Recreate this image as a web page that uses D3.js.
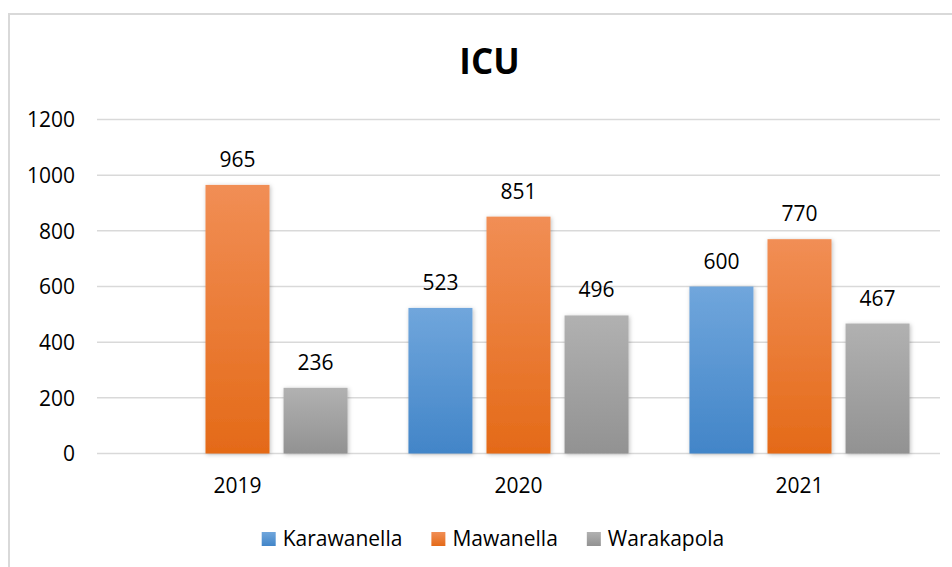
<!DOCTYPE html>
<html>
<head>
<meta charset="utf-8">
<script src="https://cdn.jsdelivr.net/npm/d3@7"></script>
<style>
  body { margin: 0; background: #fff; }
  text { font-family: "Open Sans", "Noto Sans", sans-serif; fill: #000; }
</style>
</head>
<body>
<div id="chart"></div>
<script>
var width = 952,
    height = 567;

// data
var years = ["2019", "2020", "2021"];
var seriesNames = ["Karawanella", "Mawanella", "Warakapola"];
var karawanella = [null, 523, 600];
var mawanella = [965, 851, 770];
var warakapola = [236, 496, 467];
var yTicks = [0, 200, 400, 600, 800, 1000, 1200];

var seriesValues = [karawanella, mawanella, warakapola];
var colors = [
    ["#70a6dc", "#4285c8"],
    ["#f18e55", "#e46a18"],
    ["#b1b1b1", "#929292"]
];

var plot = {left: 97, right: 940, top: 119.5, bottom: 453.5};

var svg = d3.select('#chart').append('svg')
    .attr('width', width)
    .attr('height', height);

var defs = svg.append('defs');
colors.forEach(function(c, i) {
    var grad = defs.append('linearGradient')
        .attr('id', 'grad' + i)
        .attr('x1', 0).attr('y1', 0).attr('x2', 0).attr('y2', 1);
    grad.append('stop').attr('offset', '0%').attr('stop-color', c[0]);
    grad.append('stop').attr('offset', '100%').attr('stop-color', c[1]);
});
var shadow = defs.append('filter').attr('id', 'shadow')
    .attr('x', '-20%').attr('y', '-10%').attr('width', '140%').attr('height', '120%');
shadow.append('feDropShadow')
    .attr('dx', 1).attr('dy', 1).attr('stdDeviation', 2)
    .attr('flood-color', '#000').attr('flood-opacity', 0.25);

// chart border
svg.append('rect')
    .attr('x', 9).attr('y', 14)
    .attr('width', width + 20).attr('height', height + 20)
    .attr('fill', 'none')
    .attr('stroke', '#d9d9d9')
    .attr('stroke-width', 2);

// scales
var x0 = d3.scaleBand().domain(years).range([plot.left, plot.right]).padding(0);
var x1 = d3.scaleBand().domain(seriesNames).range([0, x0.bandwidth()])
    .paddingInner(0.18).paddingOuter(0.39);
var y = d3.scaleLinear().domain([0, 1200]).range([plot.bottom, plot.top]);

// gridlines
svg.append('g').selectAll('line').data(yTicks).enter().append('line')
    .attr('x1', plot.left).attr('x2', plot.right)
    .attr('y1', function(d) { return y(d); })
    .attr('y2', function(d) { return y(d); })
    .attr('stroke', '#d9d9d9')
    .attr('stroke-width', 1.5);

// y axis labels
var yAxis = d3.axisLeft(y).tickValues(yTicks).tickFormat(d3.format('d'))
    .tickSize(0).tickPadding(0);
var ya = svg.append('g').attr('transform', 'translate(75,0)').call(yAxis);
ya.select('.domain').remove();
ya.selectAll('text')
    .style('font-size', '21px')
    .attr('dy', '0.35em');

// x axis labels
var xAxis = d3.axisBottom(x0).tickSize(0).tickPadding(0);
var xa = svg.append('g').attr('transform', 'translate(0,475)').call(xAxis);
xa.select('.domain').remove();
xa.selectAll('text').style('font-size', '21px').attr('dy', '0.85em');

// bars
var groups = svg.append('g').selectAll('g').data(years).enter().append('g')
    .attr('transform', function(d) { return 'translate(' + x0(d) + ',0)'; });

var barData = function(yr, yi) {
    return seriesNames.map(function(s, si) {
        return {series: s, si: si, value: seriesValues[si][yi]};
    }).filter(function(d) { return d.value !== null; });
};

groups.selectAll('rect').data(barData).enter().append('rect')
    .attr('x', function(d) { return x1(d.series); })
    .attr('width', x1.bandwidth())
    .attr('y', function(d) { return y(d.value); })
    .attr('height', function(d) { return y(0) - y(d.value); })
    .attr('fill', function(d) { return 'url(#grad' + d.si + ')'; })
    .attr('filter', 'url(#shadow)');

groups.selectAll('text.val').data(barData).enter().append('text')
    .attr('class', 'val')
    .attr('x', function(d) { return x1(d.series) + x1.bandwidth() / 2; })
    .attr('y', function(d) { return y(d.value) - 18; })
    .attr('text-anchor', 'middle')
    .style('font-size', '21px')
    .text(function(d) { return d.value; });

// title
svg.append('text')
    .attr('x', 489.5).attr('y', 74)
    .attr('text-anchor', 'middle')
    .style('font-size', '35px')
    .style('font-weight', 'bold')
    .text('ICU');

// legend
var legend = svg.append('g');
var items = legend.selectAll('g').data(seriesNames).enter().append('g');
items.append('rect')
    .attr('y', 532).attr('width', 14).attr('height', 14)
    .attr('fill', function(d, i) { return 'url(#grad' + i + ')'; });
items.append('text')
    .attr('x', 21).attr('y', 546)
    .style('font-size', '21px')
    .text(function(d) { return d; });
var offset = 0;
var positions = [];
items.each(function() {
    var w = d3.select(this).select('text').node().getComputedTextLength();
    positions.push(offset);
    offset += 21 + w + 29;
});
var totalW = offset - 29;
var startX = 493 - totalW / 2;
items.attr('transform', function(d, i) { return 'translate(' + (startX + positions[i]) + ',0)'; });
</script>
</body>
</html>
